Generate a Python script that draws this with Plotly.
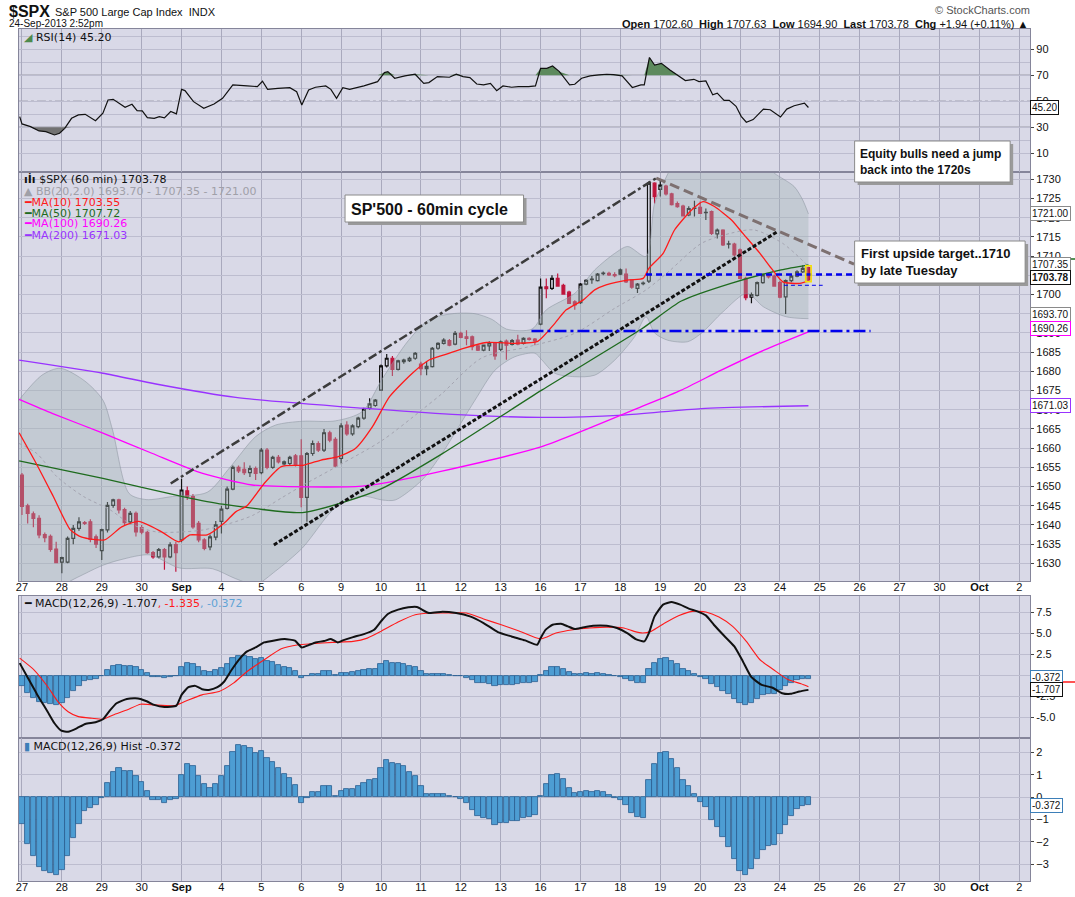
import numpy as np
import plotly.graph_objects as go

W, H = 1075, 897

# ---- x axis: one slot per hourly bar, 7 bars per session ----
day_labels = ['27', '28', '29', '30', '<b>Sep</b>', '4', '5', '6', '9', '10', '11', '12', '13',
              '16', '17', '18', '19', '20', '23', '24', '25', '26', '27', '30', '<b>Oct</b>', '2']
bars_per_day = 7

# ---- $SPX 60 min candles, Aug 27 .. Sep 24 2:52pm ----
opens = [
    1653.0, 1645.0, 1642.9, 1641.7, 1637.5, 1637.0, 1633.7,   # Aug 27
    1630.3, 1630.3, 1636.5, 1639.1, 1640.6, 1640.8, 1636.9,   # Aug 28
    1633.3, 1638.7, 1645.1, 1646.5, 1644.0, 1640.8, 1643.0,   # Aug 29
    1639.3, 1638.1, 1632.8, 1631.7, 1633.6, 1631.7, 1634.9,   # Aug 30
    1636.1, 1648.9, 1647.4, 1640.4, 1636.1, 1634.3, 1636.8,   # Sep 3
    1640.9, 1644.3, 1649.3, 1655.0, 1654.5, 1653.6, 1654.7,   # Sep 4
    1653.6, 1659.5, 1655.0, 1657.6, 1655.9, 1656.0, 1658.0,   # Sep 5
    1658.0, 1647.2, 1658.6, 1661.2, 1659.5, 1664.0, 1662.3,   # Sep 6
    1657.3, 1666.0, 1663.7, 1665.6, 1667.8, 1670.4, 1671.1,   # Sep 9
    1675.1, 1681.4, 1683.4, 1680.5, 1682.5, 1682.8, 1683.4,   # Sep 10
    1681.9, 1680.7, 1681.2, 1686.0, 1687.3, 1688.0, 1687.1,   # Sep 11
    1689.9, 1689.0, 1689.0, 1686.6, 1685.5, 1686.6, 1687.3,   # Sep 12
    1685.7, 1687.9, 1687.0, 1688.1, 1687.3, 1688.6, 1688.4,   # Sep 13
    1692.3, 1702.0, 1701.6, 1704.2, 1702.4, 1700.6, 1698.1,   # Sep 16
    1697.9, 1702.7, 1704.0, 1703.6, 1705.4, 1705.5, 1705.2,   # Sep 17
    1706.4, 1705.3, 1703.8, 1701.6, 1702.8, 1703.5, 1729.0,   # Sep 18
    1727.4, 1728.2, 1726.2, 1723.7, 1723.0, 1720.7, 1722.4,   # Sep 19
    1722.7, 1721.4, 1721.6, 1715.8, 1716.8, 1713.1, 1713.1,   # Sep 20
    1711.6, 1704.2, 1699.3, 1699.8, 1703.1, 1705.1, 1704.8,   # Sep 23
    1703.1, 1699.4, 1703.6, 1704.8, 1705.9, 1707.0,           # Sep 24
]
highs = [
    1653.5, 1645.5, 1643.5, 1642.5, 1638.0, 1637.5, 1635.6,
    1631.7, 1637.0, 1640.0, 1642.0, 1641.0, 1641.5, 1637.5,
    1639.0, 1646.0, 1646.8, 1646.8, 1644.5, 1643.6, 1643.5,
    1640.0, 1638.5, 1633.2, 1634.0, 1634.0, 1635.5, 1635.6,
    1652.0, 1650.0, 1648.0, 1641.0, 1636.5, 1637.5, 1641.0,
    1645.0, 1650.0, 1655.5, 1655.5, 1656.3, 1655.5, 1655.2,
    1660.0, 1660.0, 1658.0, 1658.2, 1656.8, 1658.0, 1658.5,
    1662.3, 1659.0, 1662.0, 1661.8, 1665.0, 1664.5, 1662.8,
    1666.5, 1667.0, 1666.2, 1668.2, 1670.5, 1673.0, 1672.8,
    1681.8, 1684.5, 1684.0, 1683.0, 1683.3, 1683.8, 1685.0,
    1682.5, 1682.6, 1686.3, 1687.6, 1688.6, 1688.4, 1690.5,
    1690.3, 1690.7, 1689.3, 1686.9, 1687.0, 1687.8, 1687.6,
    1688.0, 1688.3, 1688.4, 1689.5, 1688.9, 1688.9, 1688.7,
    1704.2, 1704.2, 1705.0, 1705.5, 1702.8, 1701.0, 1698.5,
    1703.0, 1704.0, 1704.8, 1705.6, 1706.0, 1705.9, 1705.8,
    1706.8, 1706.8, 1704.0, 1703.0, 1703.4, 1729.4, 1729.2,
    1729.8, 1728.6, 1726.5, 1724.2, 1723.4, 1723.0, 1724.4,
    1724.2, 1722.4, 1721.9, 1717.2, 1717.0, 1714.0, 1713.5,
    1712.0, 1704.6, 1700.5, 1703.4, 1705.5, 1705.6, 1705.2,
    1703.5, 1703.9, 1705.2, 1706.3, 1707.6, 1707.2,
]
lows = [
    1642.6, 1640.4, 1639.4, 1636.5, 1635.5, 1633.0, 1630.0,
    1627.4, 1630.0, 1635.0, 1638.5, 1640.0, 1635.5, 1634.0,
    1630.9, 1638.0, 1644.5, 1643.0, 1640.0, 1640.2, 1637.0,
    1637.6, 1632.5, 1631.2, 1631.3, 1628.3, 1631.3, 1627.8,
    1635.5, 1646.5, 1639.0, 1635.5, 1633.4, 1633.4, 1636.0,
    1637.8, 1644.0, 1649.0, 1653.5, 1653.0, 1652.5, 1651.7,
    1653.2, 1654.5, 1654.6, 1656.0, 1655.5, 1655.6, 1655.2,
    1644.6, 1640.8, 1658.0, 1659.0, 1659.0, 1661.5, 1655.0,
    1656.0, 1663.2, 1663.2, 1665.2, 1667.4, 1670.0, 1670.8,
    1675.0, 1681.0, 1678.8, 1680.2, 1682.0, 1682.4, 1683.0,
    1679.0, 1679.0, 1681.0, 1685.6, 1687.0, 1686.5, 1686.8,
    1688.6, 1686.8, 1685.5, 1685.3, 1685.2, 1685.3, 1683.0,
    1685.3, 1683.0, 1686.7, 1686.8, 1687.0, 1688.0, 1686.8,
    1692.0, 1699.0, 1701.2, 1702.0, 1700.0, 1697.5, 1696.0,
    1697.5, 1702.4, 1702.8, 1703.4, 1705.0, 1704.8, 1704.5,
    1705.0, 1703.0, 1701.5, 1700.4, 1702.4, 1703.0, 1723.7,
    1725.5, 1725.8, 1723.2, 1722.6, 1720.3, 1720.4, 1720.3,
    1721.0, 1719.4, 1715.5, 1714.6, 1712.6, 1712.0, 1709.9,
    1704.0, 1698.5, 1697.7, 1699.5, 1702.8, 1704.2, 1702.0,
    1699.0, 1694.9, 1703.2, 1704.5, 1705.6, 1703.6,
]
closes = [
    1644.8, 1643.0, 1641.7, 1637.4, 1636.7, 1633.6, 1630.2,
    1631.5, 1636.5, 1639.1, 1640.8, 1640.4, 1636.2, 1635.0,
    1638.8, 1645.1, 1646.5, 1643.9, 1640.6, 1643.0, 1638.2,
    1638.1, 1632.8, 1631.7, 1633.6, 1631.7, 1634.8, 1632.8,
    1649.1, 1647.4, 1639.5, 1636.1, 1633.9, 1636.9, 1640.0,
    1644.1, 1649.3, 1655.0, 1654.1, 1653.6, 1654.7, 1653.4,
    1659.5, 1655.0, 1657.6, 1656.4, 1656.4, 1657.6, 1655.6,
    1647.2, 1658.6, 1661.2, 1659.5, 1664.0, 1662.1, 1655.3,
    1665.8, 1663.7, 1665.8, 1667.8, 1670.1, 1671.5, 1672.5,
    1681.4, 1683.4, 1680.5, 1682.7, 1682.9, 1683.4, 1684.7,
    1680.7, 1681.3, 1686.0, 1687.3, 1688.1, 1686.8, 1689.9,
    1688.8, 1688.6, 1686.4, 1685.5, 1686.8, 1687.4, 1684.0,
    1687.7, 1686.8, 1688.0, 1687.1, 1688.6, 1688.3, 1687.9,
    1701.9, 1701.5, 1704.2, 1702.2, 1700.1, 1697.7, 1697.3,
    1702.7, 1703.7, 1703.9, 1705.3, 1705.6, 1705.1, 1704.9,
    1705.3, 1703.3, 1701.9, 1702.7, 1703.0, 1729.0, 1725.5,
    1728.5, 1726.2, 1723.4, 1722.9, 1720.5, 1722.4, 1722.5,
    1721.1, 1721.3, 1715.9, 1716.8, 1712.9, 1713.2, 1710.3,
    1704.2, 1699.2, 1700.0, 1703.1, 1705.1, 1704.6, 1702.2,
    1699.3, 1703.6, 1704.8, 1705.9, 1706.8, 1703.78,
]

# ---- overlays (bar position, value) ----
ma10_pos = [-0.5, 2.5, 5.5, 8.5, 10.5, 14.5, 17.5, 20.5, 24.5, 27.5, 29.5, 32.5, 35.5, 37.5, 39.5,
            42.5, 45.5, 49.5, 52.5, 55.5, 58.5, 61.5, 64.5, 68.5, 71.5, 74.5, 77.5, 81.5, 86.5,
            90.5, 93.5, 95.5, 98.5, 100.5, 102.5, 106.5, 109.0, 110.0, 112.5, 114.5, 117.5,
            119.5, 121.5, 124.5, 126.5, 129.5, 131.5, 133.5, 136.5, 138.0]
ma10_vals = [1664.0, 1656.0, 1647.4, 1638.7, 1636.8, 1636.1, 1639.5, 1640.9, 1638.2, 1635.6,
             1637.4, 1637.4, 1640.5, 1643.4, 1645.0, 1650.8, 1655.2, 1655.6, 1656.9, 1657.8,
             1659.9, 1665.6, 1673.4, 1679.5, 1683.0, 1684.5, 1686.0, 1687.5, 1687.3, 1687.8,
             1692.5, 1696.0, 1698.6, 1701.2, 1702.5, 1703.8, 1704.2, 1706.8, 1710.7, 1716.8,
             1722.0, 1724.2, 1722.9, 1719.4, 1715.9, 1710.7, 1706.8, 1703.3, 1702.9, 1703.55]

ma50_pos = [-0.5, 14.2, 28.2, 35.2, 49.2, 56.2, 63.2, 73.7, 91.2, 108.7, 115.7, 124.4, 133.2, 138.0]
ma50_vals = [1656.7, 1652.1, 1647.4, 1645.4, 1643.2, 1645.8, 1649.5, 1658.5, 1675.1, 1691.0,
             1698.3, 1702.9, 1706.4, 1707.72]

ma100_pos = [-0.5, 5.4, 14.2, 22.9, 31.7, 40.4, 50.0, 59.7, 63.2, 73.7, 91.2, 108.7, 115.7,
             122.7, 130.2, 138.0]
ma100_vals = [1672.7, 1669.0, 1663.9, 1658.6, 1653.4, 1650.4, 1649.9, 1650.1, 1650.8, 1654.0,
              1660.4, 1670.8, 1675.1, 1680.3, 1685.5, 1690.26]

ma200_pos = [-0.5, 14.2, 23.5, 37.5, 59.7, 75.5, 91.2, 105.5, 119.2, 138.0]
ma200_vals = [1682.9, 1679.5, 1676.7, 1673.2, 1670.4, 1668.8, 1668.0, 1668.6, 1670.3, 1671.03]

bb_up_pos = [-0.5, 3.5, 6.7, 11.0, 14.2, 15.9, 18.8, 21.8, 26.4, 32.5, 36.5, 41.0, 44.5, 49.2,
             55.0, 59.7, 63.2, 67.8, 71.5, 75.5, 79.5, 82.5, 85.0, 89.5, 92.0, 97.0, 100.5,
             104.0, 106.3, 109.5, 111.0, 112.8, 114.0, 118.0, 124.0, 129.0, 132.0, 135.5, 137.0,
             138.0]
bb_up_vals = [1672.6, 1679.0, 1680.8, 1677.5, 1672.5, 1664.7, 1648.2, 1646.6, 1647.4, 1648.5,
              1655.0, 1663.0, 1666.0, 1667.0, 1667.1, 1669.5, 1678.0, 1688.0, 1693.5, 1695.0,
              1695.0, 1693.5, 1691.0, 1691.0, 1696.0, 1700.3, 1706.4, 1710.7, 1712.5, 1709.9,
              1723.7, 1729.8, 1733.0, 1737.0, 1738.0, 1735.5, 1731.6, 1728.1, 1724.6, 1721.00]

bb_lo_pos = [-0.5, 3.5, 7.0, 11.3, 14.2, 17.2, 22.4, 27.6, 33.4, 37.5, 41.0, 44.5,
             49.2, 55.0, 59.7, 63.2, 65.5, 70.2, 73.7, 79.5, 83.0, 86.5, 90.0, 91.2, 93.5, 97.0,
             100.5, 104.0, 107.5, 109.5, 111.0, 113.3, 116.8, 119.2, 123.0, 127.2, 130.1, 134.1,
             138.0]
bb_lo_vals = [1620.0, 1618.0, 1624.0, 1627.5, 1629.5, 1630.9, 1632.2, 1628.8, 1628.6,
              1626.0, 1624.5, 1628.0, 1634.0, 1644.5, 1647.5, 1646.5, 1646.5, 1651.7,
              1658.6, 1672.5, 1680.3, 1683.8, 1684.7, 1683.0, 1679.5, 1678.6, 1679.0, 1682.9,
              1689.0, 1694.2, 1690.0, 1688.1, 1687.7, 1689.9, 1695.5, 1700.3, 1696.8, 1694.2,
              1693.70]

bb_mid_pos = [-0.5, 2.6, 6.1, 10.8, 15.5, 18.9, 23.5, 28.3, 31.8, 36.5, 40.5, 45.5, 49.5, 56.2,
              63.2, 70.2, 73.7, 80.7, 88.9, 97.0, 104.0, 109.5, 113.5, 119.2, 124.5, 128.5,
              133.5, 138.0]
bb_mid_vals = [1661.2, 1658.6, 1652.6, 1647.4, 1643.9, 1640.4, 1638.2, 1638.2, 1638.7, 1640.4,
               1642.5, 1647.0, 1650.5, 1656.0, 1662.0, 1670.0, 1674.2, 1683.5, 1686.4, 1689.9,
               1696.4, 1701.2, 1706.0, 1713.3, 1716.0, 1716.8, 1713.3, 1707.35]

# ---- RSI(14) ----
rsi_pos = [-0.4, 0.0, 1.5, 3.0, 4.2, 5.7, 6.6, 7.5, 8.7, 9.9, 11.1, 12.9, 14.2, 15.1, 16.0, 18.1,
           19.3, 20.2, 21.1, 22.0, 23.2, 24.1, 25.0, 26.1, 27.1, 28.0, 28.6, 30.1, 31.9, 33.7,
           35.2, 37.0, 39.5, 41.3, 42.2, 43.1, 44.9, 47.0, 48.2, 49.1, 50.3, 51.5, 53.3, 54.2,
           55.2, 56.3, 57.5, 60.0, 62.4, 63.6, 64.2, 65.4, 67.2, 69.0, 70.5, 71.4, 72.9, 75.0,
           76.2, 77.4, 78.6, 79.8, 81.0, 82.2, 83.3, 84.4, 85.9, 87.1, 88.9, 90.1, 91.0, 92.1,
           93.1, 94.3, 96.1, 97.0, 98.2, 99.7, 101.2, 102.6, 103.8, 105.3, 107.1, 108.6, 109.2,
           110.1, 111.0, 112.2, 113.7, 115.2, 116.4, 117.9, 118.8, 120.0, 121.2, 122.0, 123.2,
           124.1, 125.3, 126.2, 127.1, 128.3, 130.1, 131.3, 133.1, 134.2, 135.5, 137.3, 138.0]
rsi_vals = [38.2, 32.6, 30.5, 27.2, 26.7, 24.1, 25.4, 29.2, 36.9, 39.5, 40.0, 35.1, 40.8, 51.0,
            51.5, 45.4, 47.7, 42.8, 42.6, 37.4, 36.9, 38.2, 37.2, 42.1, 40.3, 59.2, 58.2, 49.7,
            44.6, 47.9, 52.3, 62.6, 61.8, 61.3, 65.4, 59.2, 60.0, 60.5, 57.4, 47.2, 58.7, 60.8,
            61.8, 59.2, 52.3, 60.5, 59.2, 61.8, 65.1, 72.1, 72.8, 67.7, 69.5, 70.8, 63.8, 64.4,
            69.0, 68.5, 70.8, 69.0, 68.2, 63.3, 62.6, 63.8, 58.2, 61.8, 60.8, 61.3, 61.3, 61.8,
            75.3, 75.3, 77.1, 72.8, 62.6, 63.1, 67.7, 69.5, 70.3, 70.8, 70.5, 69.5, 60.6, 62.6,
            62.6, 83.7, 77.9, 79.2, 74.1, 69.5, 65.9, 66.9, 65.2, 65.7, 55.0, 56.3, 50.7, 50.7,
            46.1, 38.4, 33.9, 35.9, 44.0, 43.5, 37.9, 44.0, 46.6, 48.6, 45.20]

# ---- MACD(12,26,9) ----
macd_pos = [-0.4, 0.9, 2.7, 4.5, 5.7, 6.9, 8.1, 9.6, 11.1, 12.9, 14.2, 15.4, 16.6, 18.4, 19.9,
            20.8, 22.0, 23.2, 25.0, 27.1, 28.0, 29.2, 30.4, 31.6, 32.8, 34.3, 35.5, 36.8, 38.3,
            39.5, 41.0, 42.5, 44.3, 46.1, 47.9, 49.1, 50.3, 51.5, 53.0, 54.2, 55.4, 56.3, 58.1,
            60.0, 61.8, 63.0, 64.2, 66.0, 67.8, 69.3, 71.4, 73.8, 76.2, 78.6, 81.0, 83.5, 85.9,
            88.3, 90.4, 91.0, 91.9, 93.1, 94.6, 95.8, 97.0, 98.4, 100.2, 102.6, 104.4, 106.2,
            107.7, 109.2, 110.0, 111.0, 112.5, 114.0, 115.5, 117.0, 118.5, 120.0, 121.4, 123.2,
            125.0, 126.5, 128.0, 129.8, 131.6, 133.4, 134.9, 136.4, 138.0]
macd_vals = [1.47, -0.12, -2.30, -4.30, -5.67, -6.55, -6.67, -6.27, -5.75, -5.55, -5.20, -4.17,
             -3.29, -2.78, -2.70, -2.78, -3.09, -3.49, -3.73, -3.57, -2.30, -1.39, -1.23, -1.63,
             -1.71, -1.39, -0.71, 0.68, 2.06, 2.86, 3.33, 3.93, 4.17, 4.33, 4.13, 3.33, 3.61,
             3.93, 4.09, 4.33, 3.93, 4.17, 4.56, 4.92, 5.44, 6.43, 7.30, 7.82, 8.10, 8.14, 7.42,
             7.58, 7.42, 7.02, 6.23, 5.16, 4.64, 4.17, 3.65, 4.44, 5.44, 6.03, 6.15, 5.83, 5.52,
             5.71, 5.91, 5.91, 5.64, 5.04, 4.33, 4.05, 5.04, 7.02, 8.41, 8.73, 8.41, 7.94, 7.62,
             7.14, 6.03, 4.72, 3.45, 1.67, -0.20, -1.11, -1.43, -2.10, -2.18, -1.90, -1.707]

signal_pos = [-0.4, 2.1, 4.5, 6.3, 8.1, 9.9, 12.3, 14.2, 16.0, 18.4, 20.8, 23.2, 26.8, 29.2, 31.6,
              34.6, 37.1, 39.5, 42.5, 45.5, 48.5, 50.9, 54.5, 58.1, 60.6, 63.0, 66.0, 69.0, 72.0,
              75.0, 78.0, 81.0, 84.1, 87.1, 91.0, 93.7, 96.7, 99.6, 102.6, 105.6, 107.4, 108.9,
              110.4, 112.8, 115.2, 117.6, 120.0, 122.3, 124.7, 127.1, 129.5, 131.9, 134.3, 136.7,
              138.0]
signal_vals = [2.06, 0.68, -1.31, -3.10, -4.30, -4.88, -5.08, -5.20, -4.68, -4.09, -3.41, -3.49,
               -3.57, -2.90, -2.30, -1.90, -0.91, 0.48, 1.87, 3.17, 3.65, 3.77, 3.93, 4.05, 4.44,
               5.24, 6.35, 7.22, 7.42, 7.42, 7.42, 6.71, 6.03, 5.32, 4.33, 5.04, 5.44, 5.64, 5.75,
               5.64, 5.24, 5.04, 5.24, 6.23, 7.10, 7.62, 7.54, 6.94, 5.83, 4.05, 1.87, 0.68, -0.44,
               -0.99, -1.335]

# histogram, one value per bar
macd_hist = [
    -1.20, -2.09, -2.62, -3.11, -3.29, -3.38, -3.48,
    -3.26, -2.62, -1.84, -1.20, -0.60, -0.48, -0.37,
    -0.03, 0.64, 1.12, 1.30, 1.17, 1.17, 0.96,
    0.69, 0.25, -0.12, -0.15, -0.27, -0.12, -0.07,
    0.97, 1.49, 1.38, 0.96, 0.57, 0.42, 0.60,
    0.93, 1.39, 2.02, 2.32, 2.27, 2.21, 1.99,
    2.06, 1.76, 1.57, 1.30, 1.05, 0.85, 0.55,
    -0.25, -0.03, 0.22, 0.22, 0.51, 0.51, 0.03,
    0.27, 0.34, 0.37, 0.49, 0.64, 0.78, 0.81,
    1.32, 1.67, 1.52, 1.49, 1.40, 1.14, 0.96,
    0.49, 0.15, 0.15, 0.15, 0.15, 0.03, 0.00,
    -0.09, -0.27, -0.57, -0.85, -0.93, -0.99, -1.24,
    -1.14, -1.14, -1.08, -1.05, -0.93, -0.87, -0.82,
    0.07, 0.57, 0.97, 1.02, 0.82, 0.42, 0.18,
    0.21, 0.25, 0.21, 0.25, 0.21, 0.10, -0.03,
    -0.15, -0.37, -0.70, -0.87, -0.93, 0.78, 1.49,
    1.99, 2.03, 1.72, 1.32, 0.78, 0.48, 0.15,
    -0.22, -0.45, -1.02, -1.34, -1.79, -2.24, -2.76,
    -3.29, -3.47, -3.21, -2.76, -2.36, -2.17, -2.14,
    -1.67, -1.24, -0.85, -0.52, -0.40, -0.372,
]

# ---- hand drawn lines: (bar, price) end points ----
channel_top = ([26.1, 111.3], [1650.8, 1730.3])
channel_bottom = ([44.2, 132.6], [1634.8, 1716.4])
falling_top = ([111.3, 146.0], [1730.3, 1707.9])
support_line = ([89.4, 148.9], [1690.5, 1690.5])
breakout_line = ([109.5, 146.0], [1705.2, 1705.2])
today_line = ([133.7, 140.5], [1702.4, 1702.4])

# ------------------------------------------------------------------
o, h, l, c = map(np.array, (opens, highs, lows, closes))
bar_x = np.arange(len(c))
prev_close = np.r_[o[0], c[:-1]]
down_day = c < prev_close
day_ticks = [d * bars_per_day for d in range(len(day_labels))]

BG = '#d9d9e7'
GRID = '#bdbdcf'
VGRID = '#a9a9bd'
BORDER = '#85859a'
AXFONT = dict(family='Liberation Sans, Arial', size=11, color='#111')
LEGFONT = 'DejaVu Sans, Verdana'


def py(px):
    return 1 - px / H


x_dom = [16 / W, 1030 / W]
x_range = [-0.53, 176.9]

fig = go.Figure()

# --- price panel ---
fig.add_trace(go.Scatter(x=bb_up_pos, y=bb_up_vals, mode='lines',
                         line=dict(color='rgba(140,150,160,0.55)', width=1, shape='spline', smoothing=0.8),
                         xaxis='x', yaxis='y', hoverinfo='skip'))
fig.add_trace(go.Scatter(x=bb_lo_pos, y=bb_lo_vals, mode='lines', fill='tonexty',
                         fillcolor='rgba(160,178,178,0.38)',
                         line=dict(color='rgba(140,150,160,0.55)', width=1, shape='spline', smoothing=0.8),
                         xaxis='x', yaxis='y', hoverinfo='skip'))
fig.add_trace(go.Scatter(x=bb_mid_pos, y=bb_mid_vals, mode='lines',
                         line=dict(color='#a4a4b0', width=1, dash='dot', shape='spline', smoothing=0.8),
                         xaxis='x', yaxis='y', hoverinfo='skip'))

ma_style = [
    (ma200_pos, ma200_vals, '#9933ff'),
    (ma100_pos, ma100_vals, '#ff00ff'),
    (ma50_pos, ma50_vals, '#1e6b1e'),
    (ma10_pos, ma10_vals, '#ff1a1a'),
]
for pos, vals, col in ma_style:
    fig.add_trace(go.Scatter(x=pos, y=vals, mode='lines',
                             line=dict(color=col, width=1.3, shape='spline', smoothing=0.6),
                             xaxis='x', yaxis='y', hoverinfo='skip'))


def candles(mask, line_col, fill_col):
    idx = np.where(mask)[0]
    return go.Candlestick(
        x=idx, open=o[idx], high=h[idx], low=l[idx], close=c[idx],
        increasing=dict(line=dict(color=line_col, width=1.2), fillcolor='rgba(0,0,0,0)'),
        decreasing=dict(line=dict(color=line_col, width=1.2), fillcolor=fill_col),
        whiskerwidth=0, xaxis='x', yaxis='y', hoverinfo='skip')


fig.add_trace(candles(down_day, '#c0143c', '#c0143c'))
fig.add_trace(candles(~down_day, '#111111', '#111111'))

drawn = [
    (channel_top, '#3c3c3c', 2.5, 'dashdot'),
    (channel_bottom, '#111111', 3, '4px,2px'),
    (falling_top, '#7d7070', 3, '10px,5px'),
    (support_line, '#0000ee', 2.5, '12px,4px,3px,4px'),
    (breakout_line, '#0000ee', 2.5, '6px,4px'),
    (today_line, '#0000ee', 1, '4px,3px'),
]
for (xs, ys), col, wid, dash in drawn:
    fig.add_trace(go.Scatter(x=xs, y=ys, mode='lines', line=dict(color=col, width=wid, dash=dash),
                             xaxis='x', yaxis='y', hoverinfo='skip'))

# --- RSI panel ---
rsi = np.array(rsi_vals)
fig.add_trace(go.Scatter(x=rsi_pos, y=[70] * len(rsi), mode='lines', line=dict(width=0),
                         xaxis='x2', yaxis='y2', hoverinfo='skip'))
fig.add_trace(go.Scatter(x=rsi_pos, y=np.maximum(rsi, 70), mode='lines', line=dict(width=0),
                         fill='tonexty', fillcolor='#5d8a5d', xaxis='x2', yaxis='y2', hoverinfo='skip'))
fig.add_trace(go.Scatter(x=rsi_pos, y=[30] * len(rsi), mode='lines', line=dict(width=0),
                         xaxis='x2', yaxis='y2', hoverinfo='skip'))
fig.add_trace(go.Scatter(x=rsi_pos, y=np.minimum(rsi, 30), mode='lines', line=dict(width=0),
                         fill='tonexty', fillcolor='#727272', xaxis='x2', yaxis='y2', hoverinfo='skip'))
fig.add_trace(go.Scatter(x=rsi_pos, y=rsi, mode='lines', line=dict(color='#111', width=1.2),
                         xaxis='x2', yaxis='y2', hoverinfo='skip'))

# --- MACD panel ---
bar_style = dict(marker=dict(color='#4d9dd3', line=dict(color='#2a5e90', width=0.8)), width=0.92)
fig.add_trace(go.Bar(x=bar_x, y=macd_hist, xaxis='x3', yaxis='y3', hoverinfo='skip', **bar_style))
fig.add_trace(go.Scatter(x=signal_pos, y=signal_vals, mode='lines',
                         line=dict(color='#ff1a1a', width=1.1, shape='spline', smoothing=0.5),
                         xaxis='x3', yaxis='y3', hoverinfo='skip'))
fig.add_trace(go.Scatter(x=macd_pos, y=macd_vals, mode='lines',
                         line=dict(color='#111', width=2, shape='spline', smoothing=0.5),
                         xaxis='x3', yaxis='y3', hoverinfo='skip'))

# --- MACD histogram panel ---
fig.add_trace(go.Bar(x=bar_x, y=macd_hist, xaxis='x4', yaxis='y4', hoverinfo='skip', **bar_style))

# ------------------------------------------------------------------
xcommon = dict(domain=x_dom, range=x_range, tickvals=day_ticks, ticktext=day_labels,
               showgrid=True, gridcolor=VGRID, gridwidth=1, zeroline=False,
               showline=True, mirror=True, linecolor=BORDER, ticks='', tickfont=AXFONT,
               fixedrange=True)
ycommon = dict(side='right', showgrid=True, gridcolor=GRID, zeroline=False, showline=True,
               mirror=True, linecolor=BORDER, ticks='outside', ticklen=3, tickcolor='#444',
               tickfont=AXFONT, fixedrange=True)

fig.update_layout(
    width=W, height=H,
    margin=dict(l=0, r=0, t=0, b=0),
    paper_bgcolor='white', plot_bgcolor=BG,
    showlegend=False, bargap=0, boxmode='overlay', boxgap=0.3,
    xaxis=dict(**xcommon, anchor='y', rangeslider=dict(visible=False), showticklabels=True,
               ticklabelstandoff=-4),
    yaxis=dict(**ycommon, anchor='x', domain=[py(581), py(172)], range=[1625.4, 1731.9],
               tick0=1630, dtick=5),
    xaxis2=dict(**xcommon, anchor='y2', matches='x', showticklabels=False),
    yaxis2=dict(**ycommon, anchor='x2', domain=[py(172), py(29)], range=[-4.4, 105.6],
                tickvals=[10, 30, 50, 70, 90],
                minor=dict(tickvals=[20, 40, 60, 80, 100], showgrid=True, gridcolor=GRID, ticks='')),
    xaxis3=dict(**xcommon, anchor='y3', matches='x', showticklabels=False),
    yaxis3=dict(**ycommon, anchor='x3', domain=[py(738), py(596)], range=[-7.42, 9.44],
                tickvals=[-5, -2.5, 0, 2.5, 5, 7.5],
                ticktext=['-5.0', '-2.5', '0.0', '2.5', '5.0', '7.5']),
    xaxis4=dict(**xcommon, anchor='y4', matches='x', showticklabels=True, ticklabelstandoff=-4),
    yaxis4=dict(**ycommon, anchor='x4', domain=[py(881), py(738)], range=[-3.75, 2.64],
                tickvals=[-3, -2, -1, 0, 1, 2]),
)

shapes = []
# RSI reference lines
for lvl, dash, col in [(70, 'solid', '#5a5a66'), (30, 'solid', '#5a5a66'), (50, 'dashdot', '#6a6a76')]:
    shapes.append(dict(type='line', xref='x2 domain', yref='y2', x0=0, x1=1, y0=lvl, y1=lvl,
                       line=dict(color=col, width=1, dash=dash), layer='below'))
# highlight of the current bar
last = len(c) - 1
shapes.append(dict(type='rect', xref='x', yref='y', x0=last - 0.48, x1=last + 0.48,
                   y0=l[last] - 0.3, y1=h[last] + 0.3, line=dict(color='#f5e000', width=1.5)))


def px_box(x0, y0, x1, y1):
    # white note box with a grey drop shadow, pixel coordinates
    shapes.append(dict(type='rect', xref='paper', yref='paper', x0=(x0 + 3) / W, x1=(x1 + 3) / W,
                       y0=py(y1 + 3), y1=py(y0 + 3), fillcolor='#9a9a9a', line=dict(width=0)))
    shapes.append(dict(type='rect', xref='paper', yref='paper', x0=x0 / W, x1=x1 / W,
                       y0=py(y1), y1=py(y0), fillcolor='white', line=dict(color='#8a8a8a', width=1)))


px_box(343, 195, 522, 222)
px_box(854, 141, 1010, 182)
px_box(854, 241, 1025, 283)

# small markers of hidden value boxes
shapes.append(dict(type='line', xref='paper', yref='paper', x0=1058 / W, x1=1075 / W,
                   y0=py(259), y1=py(259), line=dict(color='#1e6b1e', width=1.5)))
shapes.append(dict(type='line', xref='paper', yref='paper', x0=1062 / W, x1=1075 / W,
                   y0=py(682), y1=py(682), line=dict(color='#ff1a1a', width=1.5)))
fig.update_layout(shapes=shapes)

ann = []


def text(x, y, s, size=11, color='#111', family='Liberation Sans, Arial', anchor='left', yanchor='middle',
         align='left'):
    ann.append(dict(x=x / W, y=py(y), xref='paper', yref='paper', text=s, showarrow=False,
                    xanchor=anchor, yanchor=yanchor, align=align,
                    font=dict(size=size, color=color, family=family)))


# header
text(4, 11, '<b>$SPX</b>', size=16)
text(50, 12, 'S&P 500 Large Cap Index  INDX', size=11)
text(4, 24, '24-Sep-2013 2:52pm', size=10)
text(1032, 10, '© StockCharts.com', size=11, color='#555', anchor='right')
text(1030, 24, '<b>Open</b> 1702.60  <b>High</b> 1707.63  <b>Low</b> 1694.90  '
               '<b>Last</b> 1703.78  <b>Chg</b> +1.94 (+0.11%) ▲', size=11, anchor='right')

# notes
text(347, 209, "<b>SP'500 - 60min cycle</b>", size=16)
text(857, 162, '<b>Equity bulls need a jump<br>back into the 1720s</b>', size=12)
text(858, 262, '<b>First upside target..1710<br>by late Tuesday</b>', size=13)

# panel legends
text(19, 37, '<span style="color:#4d8a4d">◢</span> RSI(14) 45.20', size=11, family=LEGFONT)
text(19, 179, '<b>ıİı</b> $SPX (60 min) 1703.78', size=11, family=LEGFONT)
text(19, 191, '<span style="color:#a0a0a8">▲ BB(20,2.0) 1693.70 - 1707.35 - 1721.00</span>',
     size=11, family=LEGFONT)
legend_ma = [('#ff1a1a', 'MA(10) 1703.55', 202), ('#1e6b1e', 'MA(50) 1707.72', 213),
             ('#ff00ff', 'MA(100) 1690.26', 224), ('#9933ff', 'MA(200) 1671.03', 235)]
for col, lab, yy in legend_ma:
    text(19, yy, f'<span style="color:{col}">━{lab}</span>', size=11, family=LEGFONT)
text(19, 603, '━ MACD(12,26,9) -1.707<span style="color:#ff1a1a">, -1.335</span>'
              '<span style="color:#5fa3d6">, -0.372</span>', size=11, family=LEGFONT)
text(19, 746, '<span style="color:#3d7fb8">▮</span> MACD(12,26,9) Hist -0.372', size=11, family=LEGFONT)


def value_box(y, s, yref, border, yshift=0, bold=False):
    ann.append(dict(x=1030 / W, y=y, xref='paper', yref=yref, text=f'<b>{s}</b>' if bold else s,
                    showarrow=False, xanchor='left', yanchor='middle', yshift=yshift,
                    bgcolor='white', bordercolor=border, borderwidth=1, borderpad=1,
                    font=dict(size=10, color='#111', family='Liberation Sans, Arial')))


value_box(bb_up_vals[-1], f'{bb_up_vals[-1]:.2f}', 'y', '#8a8a8a')
value_box(bb_mid_vals[-1], f'{bb_mid_vals[-1]:.2f}', 'y', '#8a8a8a', yshift=2)
value_box(c[-1], f'{c[-1]:.2f}', 'y', '#111', yshift=2, bold=True)
value_box(bb_lo_vals[-1], f'{bb_lo_vals[-1]:.2f}', 'y', '#8a8a8a', yshift=4)
value_box(ma100_vals[-1], f'{ma100_vals[-1]:.2f}', 'y', '#ff00ff', yshift=3)
value_box(ma200_vals[-1], f'{ma200_vals[-1]:.2f}', 'y', '#9933ff')
value_box(rsi_vals[-1], f'{rsi_vals[-1]:.2f}', 'y2', '#111')
value_box(macd_hist[-1], f'{macd_hist[-1]:.3f}', 'y3', '#3d7fb8', yshift=1)
value_box(macd_vals[-1], f'{macd_vals[-1]:.3f}', 'y3', '#111', yshift=0)
value_box(macd_hist[-1], f'{macd_hist[-1]:.3f}', 'y4', '#3d7fb8')

fig.update_layout(annotations=ann)

# the page body keeps its default 8px margin otherwise
fig.write_html('out.html', config={'displayModeBar': False},
               post_script="document.body.style.margin='0';")
